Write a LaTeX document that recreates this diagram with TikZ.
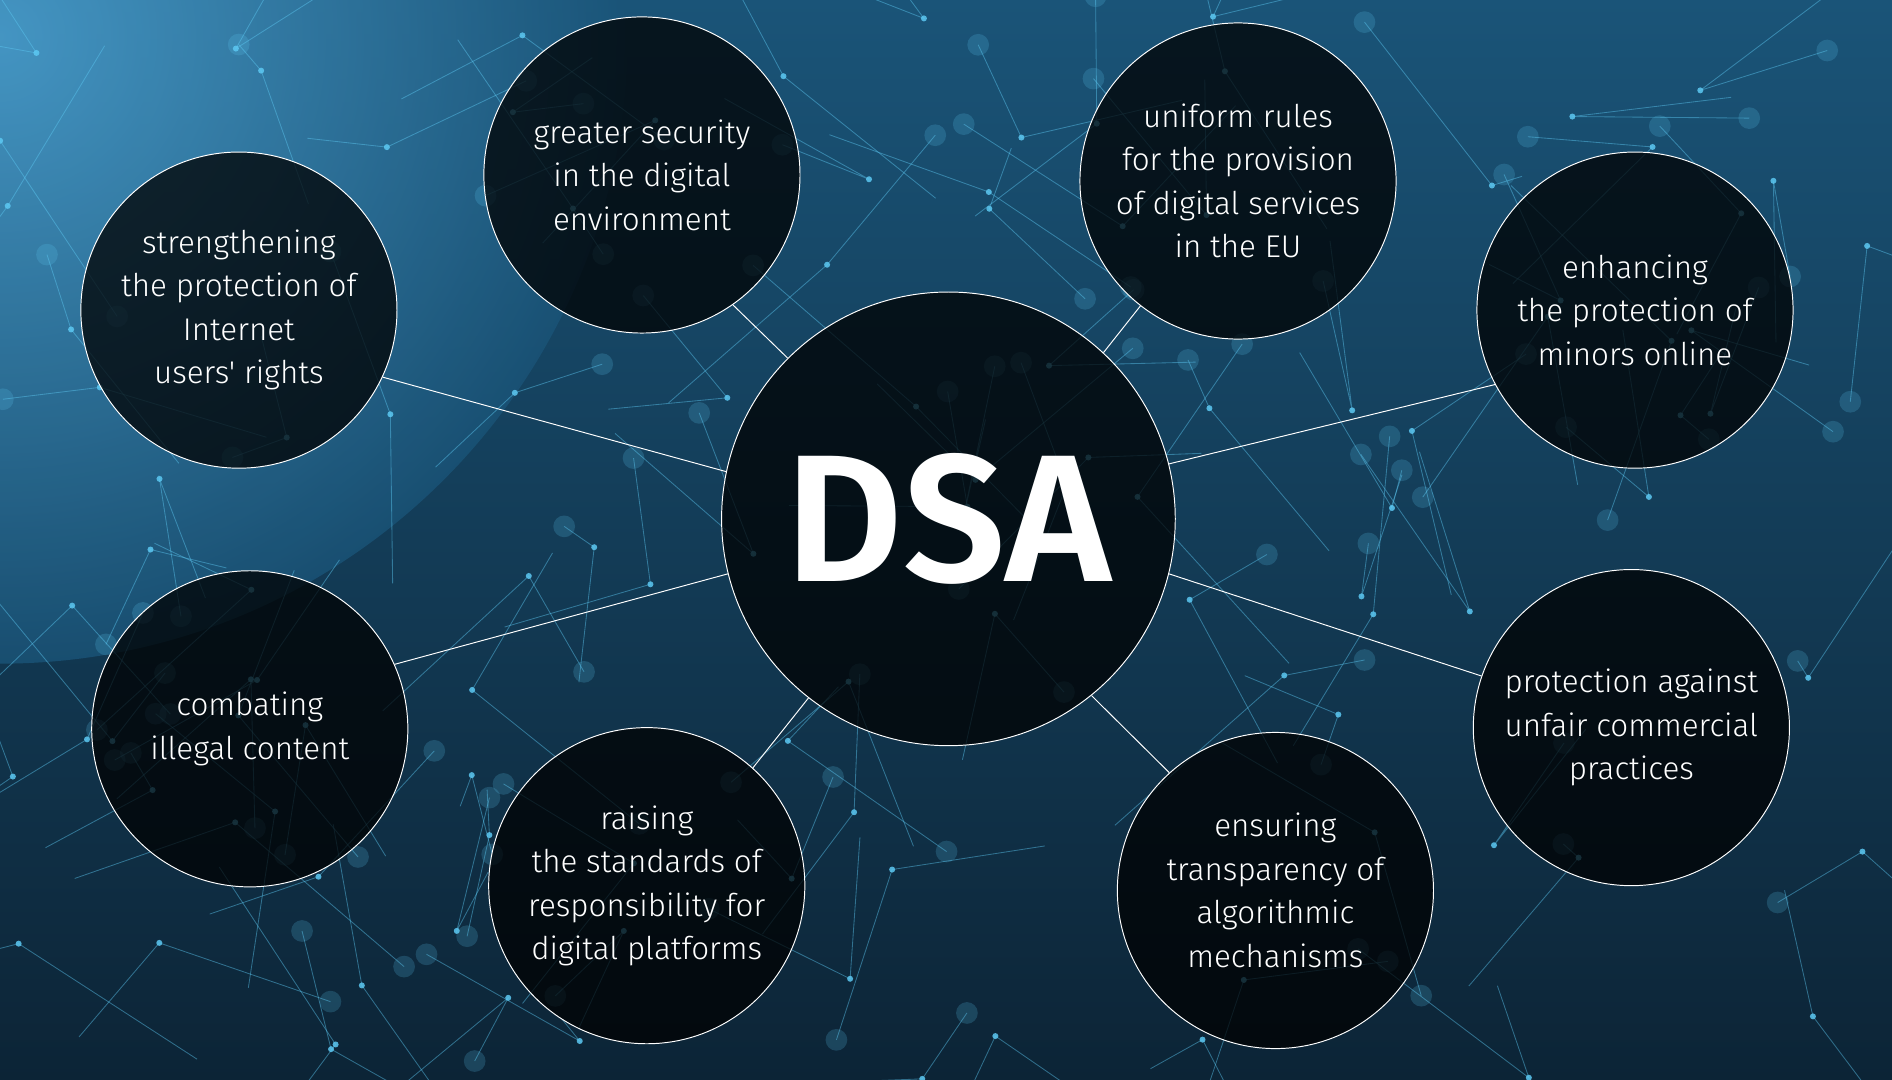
\documentclass[tikz,border=0pt]{standalone}
\usepackage{fontspec}
\setmainfont{Fira Sans}
\newfontfamily\lightf{Fira Sans Light}
\definecolor{bgdark}{HTML}{0C2436}
\definecolor{bgmid}{HTML}{1A5478}
\definecolor{bglight}{HTML}{4FA6D6}
\definecolor{netc}{HTML}{5CC8F2}
\begin{document}
\begin{tikzpicture}[x=1pt,y=-1pt,
  bubble/.style={circle,draw=white,line width=0.8pt,fill=black,fill opacity=0.74,text opacity=1,text=white,minimum size=262pt,inner sep=0pt,align=center,font=\lightf\fontsize{26}{36}\selectfont},
  link/.style={draw=white,line width=0.8pt}]
\useasboundingbox (0,0) rectangle (1568,895);
\shade[top color=bgmid,bottom color=bgdark] (0,0) rectangle (1568,895);
\begin{scope}
\clip (0,0) rectangle (1568,895);
\shade[inner color=bglight,outer color=bgmid,opacity=0.8] (0,30) circle (520);
\end{scope}
\pgfmathsetseed{7}
\foreach \i in {1,...,110}{
  \pgfmathsetmacro{\ax}{rnd*1568}\pgfmathsetmacro{\ay}{rnd*895}
  \pgfmathsetmacro{\bx}{\ax+(rnd-0.5)*300}\pgfmathsetmacro{\by}{\ay+(rnd-0.5)*300}
  \pgfmathsetmacro{\cx}{\ax+(rnd-0.5)*300}\pgfmathsetmacro{\cy}{\ay+(rnd-0.5)*300}
  \draw[netc,opacity=0.45,line width=0.7pt] (\bx,\by) -- (\ax,\ay) -- (\cx,\cy);
  \fill[netc,opacity=0.85] (\ax,\ay) circle (2.5);
  \fill[netc,opacity=0.2] (\bx,\by) circle (9);
}
\node[bubble,minimum size=376pt] (dsa) at (786,430) {\bfseries\fontsize{150}{150}\selectfont DSA};
\node[bubble] (sec) at (532,145) {greater security\\in the digital\\environment};
\node[bubble] (uni) at (1026,150) {uniform rules\\for the provision\\of digital services\\in the EU};
\node[bubble] (str) at (198,257) {strengthening\\the protection of\\Internet\\users' rights};
\node[bubble] (enh) at (1355,257) {enhancing\\the protection of\\minors online};
\node[bubble] (com) at (207,604) {combating\\illegal content};
\node[bubble] (rai) at (536,734) {raising\\the standards of\\responsibility for\\digital platforms};
\node[bubble] (ens) at (1057,738) {ensuring\\transparency of\\algorithmic\\mechanisms};
\node[bubble] (pro) at (1352,603) {protection against\\unfair commercial\\practices};
\draw[link] (dsa.168) -- (str.-25);
\draw[link] (dsa.194) -- (com.24);
\draw[link] (dsa.135) -- (sec.-55);
\draw[link] (dsa.47) -- (uni.-128);
\draw[link] (dsa.14) -- (enh.-152);
\draw[link] (dsa.-14) -- (pro.161);
\draw[link] (dsa.-51) -- (ens.132);
\draw[link] (dsa.-128) -- (rai.48);
\end{tikzpicture}
\end{document}
